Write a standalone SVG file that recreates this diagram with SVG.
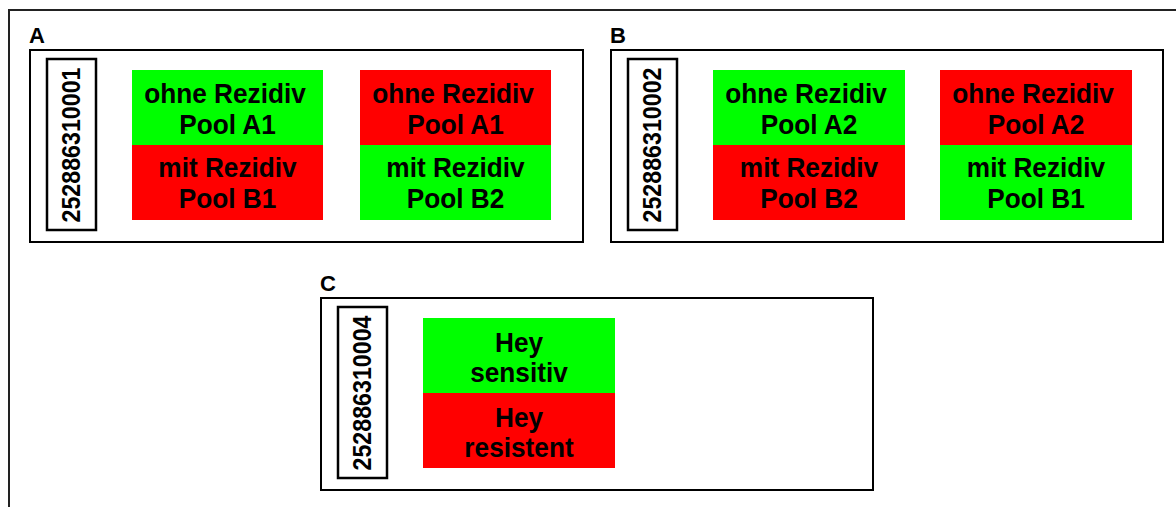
<svg xmlns="http://www.w3.org/2000/svg" width="1176" height="507" viewBox="0 0 1176 507">
<style>
.frame{fill:none;stroke:#222;stroke-width:2}
.panel{fill:#fff;stroke:#000;stroke-width:2}
.bc{fill:#fff;stroke:#000;stroke-width:2.5}
.g{fill:#00ff00}
.r{fill:#ff0000}
text{font-family:"Liberation Sans",Arial,sans-serif;font-weight:bold;fill:#000}
.lbl{font-size:22px}
.t{font-size:28.5px;text-anchor:middle}
.bct{font-size:25px;text-anchor:middle}
</style>
<rect class="frame" x="9" y="10" width="1200" height="520"/>
<g id="panelA">
<text class="lbl" x="29" y="43">A</text>
<rect class="panel" x="30" y="50" width="553" height="192"/>
<rect class="bc" x="47" y="59" width="49" height="171"/>
<text class="bct" transform="translate(80,145) rotate(-90) scale(0.93,1)">252886310001</text>
<rect class="g" x="132" y="70" width="191" height="75"/>
<rect class="r" x="132" y="145" width="191" height="75"/>
<text class="t" transform="translate(225,103) scale(0.92,1)">ohne Rezidiv</text>
<text class="t" transform="translate(227.5,134) scale(0.92,1)">Pool A1</text>
<text class="t" transform="translate(227.5,177) scale(0.92,1)">mit Rezidiv</text>
<text class="t" transform="translate(227.5,208) scale(0.92,1)">Pool B1</text>
<rect class="r" x="360" y="70" width="191" height="75"/>
<rect class="g" x="360" y="145" width="191" height="75"/>
<text class="t" transform="translate(453,103) scale(0.92,1)">ohne Rezidiv</text>
<text class="t" transform="translate(455.5,134) scale(0.92,1)">Pool A1</text>
<text class="t" transform="translate(455.5,177) scale(0.92,1)">mit Rezidiv</text>
<text class="t" transform="translate(455.5,208) scale(0.92,1)">Pool B2</text>
</g>
<g id="panelB">
<text class="lbl" x="610" y="43">B</text>
<rect class="panel" x="611" y="50" width="552" height="192"/>
<rect class="bc" x="628" y="59" width="49" height="171"/>
<text class="bct" transform="translate(661,145) rotate(-90) scale(0.93,1)">252886310002</text>
<rect class="g" x="713" y="70" width="192" height="75"/>
<rect class="r" x="713" y="145" width="192" height="75"/>
<text class="t" transform="translate(806,103) scale(0.92,1)">ohne Rezidiv</text>
<text class="t" transform="translate(809,134) scale(0.92,1)">Pool A2</text>
<text class="t" transform="translate(809,177) scale(0.92,1)">mit Rezidiv</text>
<text class="t" transform="translate(809,208) scale(0.92,1)">Pool B2</text>
<rect class="r" x="940" y="70" width="192" height="75"/>
<rect class="g" x="940" y="145" width="192" height="75"/>
<text class="t" transform="translate(1033,103) scale(0.92,1)">ohne Rezidiv</text>
<text class="t" transform="translate(1036,134) scale(0.92,1)">Pool A2</text>
<text class="t" transform="translate(1036,177) scale(0.92,1)">mit Rezidiv</text>
<text class="t" transform="translate(1036,208) scale(0.92,1)">Pool B1</text>
</g>
<g id="panelC">
<text class="lbl" x="320" y="291">C</text>
<rect class="panel" x="321" y="298" width="552" height="192"/>
<rect class="bc" x="338" y="307" width="49" height="171"/>
<text class="bct" transform="translate(371,393) rotate(-90) scale(0.93,1)">252886310004</text>
<rect class="g" x="423" y="318" width="192" height="75"/>
<rect class="r" x="423" y="393" width="192" height="75"/>
<text class="t" transform="translate(519,352) scale(0.92,1)">Hey</text>
<text class="t" transform="translate(519,382) scale(0.92,1)">sensitiv</text>
<text class="t" transform="translate(519,427) scale(0.92,1)">Hey</text>
<text class="t" transform="translate(519,457) scale(0.92,1)">resistent</text>
</g>
<g id="connectors"/>
</svg>
